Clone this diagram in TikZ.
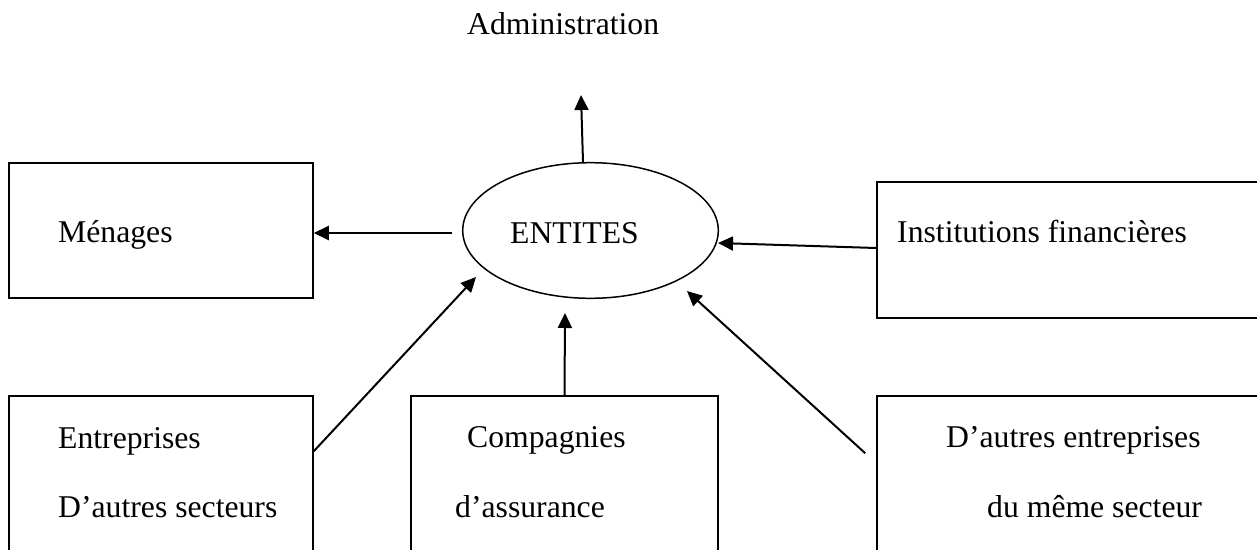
\documentclass[tikz,border=0pt]{standalone}
\usepackage{fontspec}
\setmainfont{Liberation Serif}
\usetikzlibrary{arrows.meta,shapes.geometric,calc}
\begin{document}
\begin{tikzpicture}[x=1pt,y=-1pt,
  every node/.style={font=\fontsize{31.7}{38}\selectfont},
  box/.style={draw,line width=1.5pt,rectangle,inner sep=0pt},
  lbl/.style={inner sep=0pt,anchor=base west},
  arr/.style={line width=2pt,-{Triangle[length=15pt,width=14pt]}}]
\useasboundingbox (0,0) rectangle (1257,549);
\clip (0,0) rectangle (1257,549);
% boxes
\node[box,minimum width=304pt,minimum height=135pt] (men) at (161,230.5) {};
\node[box,minimum width=390pt,minimum height=136pt] (inst) at (1072,250) {};
\node[box,minimum width=304pt,minimum height=200pt] (entr) at (161,496) {};
\node[box,minimum width=307pt,minimum height=200pt] (comp) at (564.5,496) {};
\node[box,minimum width=390pt,minimum height=200pt] (aut) at (1072,496) {};
\node[draw,line width=1.5pt,ellipse,minimum width=255.6pt,minimum height=135.6pt,inner sep=0pt] (ent) at (590.5,230.5) {};
% texts
\node[lbl] (adm) at (467,34) {Administration};
\node[lbl] (entlbl) at (510,243) {ENTITES};
\node[lbl] (menlbl) at (58,242) {Ménages};
\node[lbl] (instlbl) at (897,242) {Institutions financières};
\node[lbl] (entr1) at (58,448) {Entreprises};
\node[lbl] (entr2) at (58,517) {D’autres secteurs};
\node[lbl] (comp1) at (467,447) {Compagnies};
\node[lbl] (comp2) at (455,517) {d’assurance};
\node[lbl] (aut1) at (946,447) {D’autres entreprises};
\node[lbl] (aut2) at (987,517) {du même secteur};
% arrow end points
\coordinate (admtip) at (581,95);
\coordinate (menstart) at (452,233);
\coordinate (insttip) at (718,243);
\coordinate (entrtip) at (476,277);
\coordinate (comptip) at (565,313);
\coordinate (auttip) at (687,291);
\coordinate (autstart) at ($(aut.north west)+(-11,58)$);
% connectors
\draw[arr] ($(ent.north)+(-7.5,0)$) -- (admtip);
\draw[arr] (menstart) -- ([yshift=-2.5pt]men.east);
\draw[arr] ([yshift=2pt]inst.west) -- (insttip);
\draw[arr] ($(entr.north east)+(0,56)$) -- (entrtip);
\draw[arr] (comp.north) -- (comptip);
\draw[arr] (autstart) -- (auttip);
\end{tikzpicture}
\end{document}
